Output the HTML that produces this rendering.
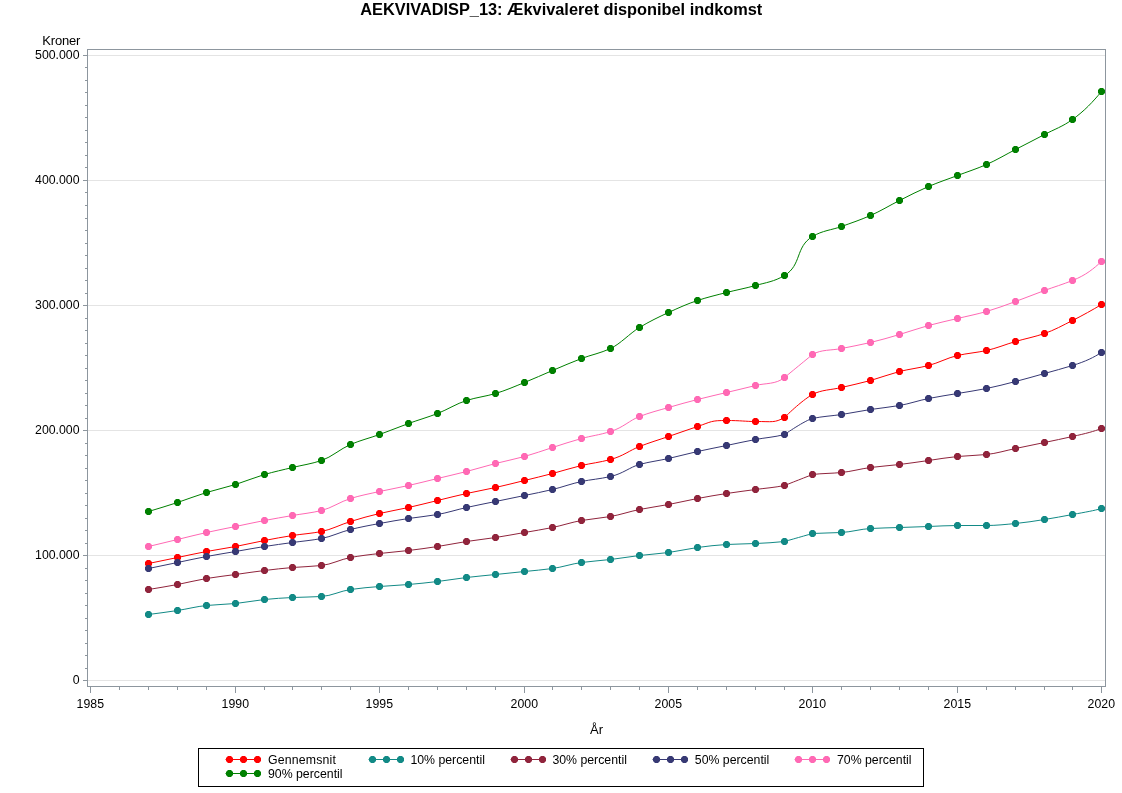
<!DOCTYPE html>
<html lang="da"><head><meta charset="utf-8"><title>AEKVIVADISP_13: Ækvivaleret disponibel indkomst</title>
<style>html,body{margin:0;padding:0;background:#fff}svg{display:block}text{font-family:"Liberation Sans",sans-serif;fill:#000}.t{font-size:12.3px}.tt{font-size:16.35px;font-weight:bold}.l{font-size:13px}</style></head><body>
<svg width="1122" height="793" viewBox="0 0 1122 793">
<rect width="1122" height="793" fill="#fff"/>
<text class="tt" x="561.3" y="14.8" text-anchor="middle">AEKVIVADISP_13: Ækvivaleret disponibel indkomst</text>
<path d="M88,680.5H1105M88,555.5H1105M88,430.5H1105M88,305.5H1105M88,180.5H1105M88,55.5H1105" stroke="#E4E4E4" stroke-width="1" fill="none"/>
<rect x="87.5" y="49.5" width="1018" height="637" fill="none" stroke="#8D969E" stroke-width="1"/>
<path d="M83,680.5H87M85,668.5H87M85,655.5H87M85,643.5H87M85,630.5H87M85,618.5H87M85,605.5H87M85,593.5H87M85,580.5H87M85,568.5H87M83,555.5H87M85,543.5H87M85,530.5H87M85,518.5H87M85,505.5H87M85,493.5H87M85,480.5H87M85,468.5H87M85,455.5H87M85,443.5H87M83,430.5H87M85,418.5H87M85,405.5H87M85,393.5H87M85,380.5H87M85,368.5H87M85,355.5H87M85,343.5H87M85,330.5H87M85,318.5H87M83,305.5H87M85,293.5H87M85,280.5H87M85,268.5H87M85,255.5H87M85,243.5H87M85,230.5H87M85,218.5H87M85,205.5H87M85,192.5H87M83,180.5H87M85,167.5H87M85,155.5H87M85,142.5H87M85,130.5H87M85,117.5H87M85,105.5H87M85,92.5H87M85,80.5H87M85,67.5H87M83,55.5H87M90.5,687V693M119.5,687V690M148.5,687V690M177.5,687V690M206.5,687V690M235.5,687V693M264.5,687V690M292.5,687V690M321.5,687V690M350.5,687V690M379.5,687V693M408.5,687V690M437.5,687V690M466.5,687V690M495.5,687V690M524.5,687V693M552.5,687V690M581.5,687V690M610.5,687V690M639.5,687V690M668.5,687V693M697.5,687V690M726.5,687V690M755.5,687V690M784.5,687V690M812.5,687V693M841.5,687V690M870.5,687V690M899.5,687V690M928.5,687V690M957.5,687V693M986.5,687V690M1015.5,687V690M1044.5,687V690M1072.5,687V690M1101.5,687V693" stroke="#8D969E" stroke-width="1" fill="none"/>
<text class="t" x="79.5" y="683.9" text-anchor="end">0</text>
<text class="t" x="79.5" y="558.9" text-anchor="end">100.000</text>
<text class="t" x="79.5" y="433.9" text-anchor="end">200.000</text>
<text class="t" x="79.5" y="308.9" text-anchor="end">300.000</text>
<text class="t" x="79.5" y="183.9" text-anchor="end">400.000</text>
<text class="t" x="79.5" y="58.9" text-anchor="end">500.000</text>
<text class="l" x="80.2" y="45.1" text-anchor="end" letter-spacing="-0.2">Kroner</text>
<text class="t" x="90.3" y="707.7" text-anchor="middle">1985</text>
<text class="t" x="235.3" y="707.7" text-anchor="middle">1990</text>
<text class="t" x="379.3" y="707.7" text-anchor="middle">1995</text>
<text class="t" x="524.3" y="707.7" text-anchor="middle">2000</text>
<text class="t" x="668.3" y="707.7" text-anchor="middle">2005</text>
<text class="t" x="812.3" y="707.7" text-anchor="middle">2010</text>
<text class="t" x="957.3" y="707.7" text-anchor="middle">2015</text>
<text class="t" x="1101.3" y="707.7" text-anchor="middle">2020</text>
<text class="l" x="596.5" y="733.7" text-anchor="middle">År</text>
<g><path d="M148.5,563.5C158.65,561.40 167.35,559.60 177.5,557.5C187.65,555.40 196.35,553.41 206.5,551.5C216.65,549.59 225.35,548.41 235.5,546.5C245.65,544.59 254.35,542.45 264.5,540.5C274.30,538.62 282.70,537.03 292.5,535.5C302.65,533.92 311.35,533.50 321.5,531.5C331.65,529.50 340.35,524.61 350.5,521.5C360.65,518.39 369.35,515.90 379.5,513.5C389.65,511.10 398.35,509.76 408.5,507.5C418.65,505.24 427.35,502.95 437.5,500.5C447.65,498.05 456.35,495.76 466.5,493.5C476.65,491.24 485.35,489.76 495.5,487.5C505.65,485.24 514.35,482.99 524.5,480.5C534.30,478.09 542.70,476.07 552.5,473.5C562.65,470.84 571.35,467.90 581.5,465.5C591.65,463.10 598.90,462.63 610.5,459.5C623.55,455.98 629.35,450.46 639.5,446.5C649.65,442.54 658.35,440.00 668.5,436.5C678.65,433.00 687.35,429.93 697.5,426.5C712.00,421.60 710.55,420.50 726.5,420.5C741.00,420.50 745.35,421.50 755.5,421.5C772.90,421.50 774.35,423.08 784.5,417.5C784.50,417.50 801.30,400.66 812.5,394.5C821.20,389.71 831.35,389.95 841.5,387.5C851.65,385.05 860.35,383.26 870.5,380.5C880.65,377.74 889.35,374.02 899.5,371.5C909.65,368.98 918.35,368.12 928.5,365.5C938.65,362.88 947.35,357.83 957.5,355.5C967.65,353.17 976.35,352.75 986.5,350.5C996.65,348.25 1005.35,344.46 1015.5,341.5C1025.65,338.54 1034.35,337.01 1044.5,333.5C1054.30,330.11 1062.70,325.40 1072.5,320.5C1082.65,315.43 1092.80,309.72 1101.5,304.5" fill="none" stroke="#FF0000" stroke-width="1"/>
<path d="M147.0,560.0h3l2,2v3l-2,2h-3l-2,-2v-3zM176.0,554.0h3l2,2v3l-2,2h-3l-2,-2v-3zM205.0,548.0h3l2,2v3l-2,2h-3l-2,-2v-3zM234.0,543.0h3l2,2v3l-2,2h-3l-2,-2v-3zM263.0,537.0h3l2,2v3l-2,2h-3l-2,-2v-3zM291.0,532.0h3l2,2v3l-2,2h-3l-2,-2v-3zM320.0,528.0h3l2,2v3l-2,2h-3l-2,-2v-3zM349.0,518.0h3l2,2v3l-2,2h-3l-2,-2v-3zM378.0,510.0h3l2,2v3l-2,2h-3l-2,-2v-3zM407.0,504.0h3l2,2v3l-2,2h-3l-2,-2v-3zM436.0,497.0h3l2,2v3l-2,2h-3l-2,-2v-3zM465.0,490.0h3l2,2v3l-2,2h-3l-2,-2v-3zM494.0,484.0h3l2,2v3l-2,2h-3l-2,-2v-3zM523.0,477.0h3l2,2v3l-2,2h-3l-2,-2v-3zM551.0,470.0h3l2,2v3l-2,2h-3l-2,-2v-3zM580.0,462.0h3l2,2v3l-2,2h-3l-2,-2v-3zM609.0,456.0h3l2,2v3l-2,2h-3l-2,-2v-3zM638.0,443.0h3l2,2v3l-2,2h-3l-2,-2v-3zM667.0,433.0h3l2,2v3l-2,2h-3l-2,-2v-3zM696.0,423.0h3l2,2v3l-2,2h-3l-2,-2v-3zM725.0,417.0h3l2,2v3l-2,2h-3l-2,-2v-3zM754.0,418.0h3l2,2v3l-2,2h-3l-2,-2v-3zM783.0,414.0h3l2,2v3l-2,2h-3l-2,-2v-3zM811.0,391.0h3l2,2v3l-2,2h-3l-2,-2v-3zM840.0,384.0h3l2,2v3l-2,2h-3l-2,-2v-3zM869.0,377.0h3l2,2v3l-2,2h-3l-2,-2v-3zM898.0,368.0h3l2,2v3l-2,2h-3l-2,-2v-3zM927.0,362.0h3l2,2v3l-2,2h-3l-2,-2v-3zM956.0,352.0h3l2,2v3l-2,2h-3l-2,-2v-3zM985.0,347.0h3l2,2v3l-2,2h-3l-2,-2v-3zM1014.0,338.0h3l2,2v3l-2,2h-3l-2,-2v-3zM1043.0,330.0h3l2,2v3l-2,2h-3l-2,-2v-3zM1071.0,317.0h3l2,2v3l-2,2h-3l-2,-2v-3zM1100.0,301.0h3l2,2v3l-2,2h-3l-2,-2v-3z" fill="#FF0000"/></g>
<g><path d="M148.5,614.5C158.65,613.18 167.35,612.06 177.5,610.5C187.65,608.94 196.35,606.50 206.5,605.5C216.65,604.50 225.35,604.43 235.5,603.5C245.65,602.57 254.35,600.46 264.5,599.5C274.30,598.58 282.70,597.96 292.5,597.5C302.65,597.03 311.35,597.11 321.5,596.5C331.65,595.89 340.35,590.97 350.5,589.5C360.65,588.03 369.35,587.34 379.5,586.5C389.65,585.66 398.35,585.34 408.5,584.5C418.65,583.66 427.35,582.70 437.5,581.5C447.65,580.30 456.35,578.70 466.5,577.5C476.65,576.30 485.35,575.55 495.5,574.5C505.65,573.45 514.35,572.57 524.5,571.5C534.30,570.47 542.70,569.88 552.5,568.5C562.65,567.07 571.35,563.90 581.5,562.5C591.65,561.10 600.35,560.70 610.5,559.5C620.65,558.30 629.35,556.70 639.5,555.5C649.65,554.30 658.35,553.81 668.5,552.5C678.65,551.19 687.35,548.81 697.5,547.5C707.65,546.19 716.35,545.02 726.5,544.5C736.65,543.98 745.35,543.97 755.5,543.5C765.65,543.03 774.35,542.63 784.5,541.5C784.50,541.50 812.50,533.50 812.5,533.5C822.65,532.88 831.35,533.06 841.5,532.5C851.65,531.94 860.35,529.06 870.5,528.5C880.65,527.94 889.35,527.85 899.5,527.5C909.65,527.15 918.35,526.85 928.5,526.5C938.65,526.15 947.35,525.50 957.5,525.5C967.65,525.50 976.35,525.50 986.5,525.5C996.65,525.50 1005.35,524.43 1015.5,523.5C1025.65,522.57 1034.35,521.08 1044.5,519.5C1054.30,517.97 1062.70,516.29 1072.5,514.5C1086.42,511.96 1093.38,510.80 1101.5,508.5" fill="none" stroke="#128A86" stroke-width="1"/>
<path d="M147.0,611.0h3l2,2v3l-2,2h-3l-2,-2v-3zM176.0,607.0h3l2,2v3l-2,2h-3l-2,-2v-3zM205.0,602.0h3l2,2v3l-2,2h-3l-2,-2v-3zM234.0,600.0h3l2,2v3l-2,2h-3l-2,-2v-3zM263.0,596.0h3l2,2v3l-2,2h-3l-2,-2v-3zM291.0,594.0h3l2,2v3l-2,2h-3l-2,-2v-3zM320.0,593.0h3l2,2v3l-2,2h-3l-2,-2v-3zM349.0,586.0h3l2,2v3l-2,2h-3l-2,-2v-3zM378.0,583.0h3l2,2v3l-2,2h-3l-2,-2v-3zM407.0,581.0h3l2,2v3l-2,2h-3l-2,-2v-3zM436.0,578.0h3l2,2v3l-2,2h-3l-2,-2v-3zM465.0,574.0h3l2,2v3l-2,2h-3l-2,-2v-3zM494.0,571.0h3l2,2v3l-2,2h-3l-2,-2v-3zM523.0,568.0h3l2,2v3l-2,2h-3l-2,-2v-3zM551.0,565.0h3l2,2v3l-2,2h-3l-2,-2v-3zM580.0,559.0h3l2,2v3l-2,2h-3l-2,-2v-3zM609.0,556.0h3l2,2v3l-2,2h-3l-2,-2v-3zM638.0,552.0h3l2,2v3l-2,2h-3l-2,-2v-3zM667.0,549.0h3l2,2v3l-2,2h-3l-2,-2v-3zM696.0,544.0h3l2,2v3l-2,2h-3l-2,-2v-3zM725.0,541.0h3l2,2v3l-2,2h-3l-2,-2v-3zM754.0,540.0h3l2,2v3l-2,2h-3l-2,-2v-3zM783.0,538.0h3l2,2v3l-2,2h-3l-2,-2v-3zM811.0,530.0h3l2,2v3l-2,2h-3l-2,-2v-3zM840.0,529.0h3l2,2v3l-2,2h-3l-2,-2v-3zM869.0,525.0h3l2,2v3l-2,2h-3l-2,-2v-3zM898.0,524.0h3l2,2v3l-2,2h-3l-2,-2v-3zM927.0,523.0h3l2,2v3l-2,2h-3l-2,-2v-3zM956.0,522.0h3l2,2v3l-2,2h-3l-2,-2v-3zM985.0,522.0h3l2,2v3l-2,2h-3l-2,-2v-3zM1014.0,520.0h3l2,2v3l-2,2h-3l-2,-2v-3zM1043.0,516.0h3l2,2v3l-2,2h-3l-2,-2v-3zM1071.0,511.0h3l2,2v3l-2,2h-3l-2,-2v-3zM1100.0,505.0h3l2,2v3l-2,2h-3l-2,-2v-3z" fill="#128A86"/></g>
<g><path d="M148.5,589.5C158.65,587.83 167.35,586.41 177.5,584.5C187.65,582.59 196.35,580.18 206.5,578.5C216.65,576.82 225.35,575.90 235.5,574.5C245.65,573.10 254.35,571.72 264.5,570.5C274.30,569.32 282.70,568.32 292.5,567.5C302.65,566.65 311.35,566.62 321.5,565.5C331.65,564.38 340.35,559.37 350.5,557.5C360.65,555.63 369.35,554.70 379.5,553.5C389.65,552.30 398.35,551.70 408.5,550.5C418.65,549.30 427.35,548.06 437.5,546.5C447.65,544.94 456.35,543.06 466.5,541.5C476.65,539.94 485.35,539.06 495.5,537.5C505.65,535.94 514.35,534.28 524.5,532.5C534.30,530.78 542.70,529.51 552.5,527.5C562.65,525.42 571.35,522.28 581.5,520.5C591.65,518.72 600.35,518.28 610.5,516.5C620.65,514.72 629.35,511.54 639.5,509.5C649.65,507.46 658.35,506.41 668.5,504.5C678.65,502.59 687.35,500.41 697.5,498.5C707.65,496.59 716.35,495.06 726.5,493.5C736.65,491.94 745.35,490.90 755.5,489.5C765.65,488.10 774.35,487.57 784.5,485.5C784.50,485.50 812.50,474.50 812.5,474.5C822.65,473.31 831.35,473.50 841.5,472.5C851.65,471.50 860.35,468.81 870.5,467.5C880.65,466.19 889.35,465.70 899.5,464.5C909.65,463.30 918.35,461.90 928.5,460.5C938.65,459.10 947.35,457.43 957.5,456.5C967.65,455.57 976.35,455.55 986.5,454.5C996.65,453.45 1005.35,450.60 1015.5,448.5C1025.65,446.40 1034.35,444.64 1044.5,442.5C1054.30,440.44 1062.70,438.69 1072.5,436.5C1086.42,433.39 1093.38,431.57 1101.5,428.5" fill="none" stroke="#90243C" stroke-width="1"/>
<path d="M147.0,586.0h3l2,2v3l-2,2h-3l-2,-2v-3zM176.0,581.0h3l2,2v3l-2,2h-3l-2,-2v-3zM205.0,575.0h3l2,2v3l-2,2h-3l-2,-2v-3zM234.0,571.0h3l2,2v3l-2,2h-3l-2,-2v-3zM263.0,567.0h3l2,2v3l-2,2h-3l-2,-2v-3zM291.0,564.0h3l2,2v3l-2,2h-3l-2,-2v-3zM320.0,562.0h3l2,2v3l-2,2h-3l-2,-2v-3zM349.0,554.0h3l2,2v3l-2,2h-3l-2,-2v-3zM378.0,550.0h3l2,2v3l-2,2h-3l-2,-2v-3zM407.0,547.0h3l2,2v3l-2,2h-3l-2,-2v-3zM436.0,543.0h3l2,2v3l-2,2h-3l-2,-2v-3zM465.0,538.0h3l2,2v3l-2,2h-3l-2,-2v-3zM494.0,534.0h3l2,2v3l-2,2h-3l-2,-2v-3zM523.0,529.0h3l2,2v3l-2,2h-3l-2,-2v-3zM551.0,524.0h3l2,2v3l-2,2h-3l-2,-2v-3zM580.0,517.0h3l2,2v3l-2,2h-3l-2,-2v-3zM609.0,513.0h3l2,2v3l-2,2h-3l-2,-2v-3zM638.0,506.0h3l2,2v3l-2,2h-3l-2,-2v-3zM667.0,501.0h3l2,2v3l-2,2h-3l-2,-2v-3zM696.0,495.0h3l2,2v3l-2,2h-3l-2,-2v-3zM725.0,490.0h3l2,2v3l-2,2h-3l-2,-2v-3zM754.0,486.0h3l2,2v3l-2,2h-3l-2,-2v-3zM783.0,482.0h3l2,2v3l-2,2h-3l-2,-2v-3zM811.0,471.0h3l2,2v3l-2,2h-3l-2,-2v-3zM840.0,469.0h3l2,2v3l-2,2h-3l-2,-2v-3zM869.0,464.0h3l2,2v3l-2,2h-3l-2,-2v-3zM898.0,461.0h3l2,2v3l-2,2h-3l-2,-2v-3zM927.0,457.0h3l2,2v3l-2,2h-3l-2,-2v-3zM956.0,453.0h3l2,2v3l-2,2h-3l-2,-2v-3zM985.0,451.0h3l2,2v3l-2,2h-3l-2,-2v-3zM1014.0,445.0h3l2,2v3l-2,2h-3l-2,-2v-3zM1043.0,439.0h3l2,2v3l-2,2h-3l-2,-2v-3zM1071.0,433.0h3l2,2v3l-2,2h-3l-2,-2v-3zM1100.0,425.0h3l2,2v3l-2,2h-3l-2,-2v-3z" fill="#90243C"/></g>
<g><path d="M148.5,568.5C158.65,566.40 167.35,564.60 177.5,562.5C187.65,560.40 196.35,558.41 206.5,556.5C216.65,554.59 225.35,553.25 235.5,551.5C245.65,549.75 254.35,548.09 264.5,546.5C274.30,544.97 282.70,543.88 292.5,542.5C302.65,541.08 311.35,540.44 321.5,538.5C331.65,536.56 340.35,532.02 350.5,529.5C360.65,526.98 369.35,525.41 379.5,523.5C389.65,521.59 398.35,520.06 408.5,518.5C418.65,516.94 427.35,516.28 437.5,514.5C447.65,512.72 456.35,509.76 466.5,507.5C476.65,505.24 485.35,503.60 495.5,501.5C505.65,499.40 514.35,497.64 524.5,495.5C534.30,493.44 542.70,491.86 552.5,489.5C562.65,487.05 571.35,483.65 581.5,481.5C591.65,479.35 598.90,479.17 610.5,476.5C623.55,473.50 629.35,467.30 639.5,464.5C649.65,461.70 658.35,460.76 668.5,458.5C678.65,456.24 687.35,453.76 697.5,451.5C707.65,449.24 716.35,447.60 726.5,445.5C736.65,443.40 745.35,441.41 755.5,439.5C765.65,437.59 774.35,437.19 784.5,434.5C784.50,434.50 805.50,420.06 812.5,418.5C822.65,416.24 831.35,416.06 841.5,414.5C851.65,412.94 860.35,411.06 870.5,409.5C880.65,407.94 889.35,407.28 899.5,405.5C909.65,403.72 918.35,400.54 928.5,398.5C938.65,396.46 947.35,395.25 957.5,393.5C967.65,391.75 976.35,390.54 986.5,388.5C996.65,386.46 1005.35,384.11 1015.5,381.5C1025.65,378.89 1034.35,376.35 1044.5,373.5C1054.30,370.75 1062.70,368.54 1072.5,365.5C1086.42,361.18 1093.38,357.49 1101.5,352.5" fill="none" stroke="#373974" stroke-width="1"/>
<path d="M147.0,565.0h3l2,2v3l-2,2h-3l-2,-2v-3zM176.0,559.0h3l2,2v3l-2,2h-3l-2,-2v-3zM205.0,553.0h3l2,2v3l-2,2h-3l-2,-2v-3zM234.0,548.0h3l2,2v3l-2,2h-3l-2,-2v-3zM263.0,543.0h3l2,2v3l-2,2h-3l-2,-2v-3zM291.0,539.0h3l2,2v3l-2,2h-3l-2,-2v-3zM320.0,535.0h3l2,2v3l-2,2h-3l-2,-2v-3zM349.0,526.0h3l2,2v3l-2,2h-3l-2,-2v-3zM378.0,520.0h3l2,2v3l-2,2h-3l-2,-2v-3zM407.0,515.0h3l2,2v3l-2,2h-3l-2,-2v-3zM436.0,511.0h3l2,2v3l-2,2h-3l-2,-2v-3zM465.0,504.0h3l2,2v3l-2,2h-3l-2,-2v-3zM494.0,498.0h3l2,2v3l-2,2h-3l-2,-2v-3zM523.0,492.0h3l2,2v3l-2,2h-3l-2,-2v-3zM551.0,486.0h3l2,2v3l-2,2h-3l-2,-2v-3zM580.0,478.0h3l2,2v3l-2,2h-3l-2,-2v-3zM609.0,473.0h3l2,2v3l-2,2h-3l-2,-2v-3zM638.0,461.0h3l2,2v3l-2,2h-3l-2,-2v-3zM667.0,455.0h3l2,2v3l-2,2h-3l-2,-2v-3zM696.0,448.0h3l2,2v3l-2,2h-3l-2,-2v-3zM725.0,442.0h3l2,2v3l-2,2h-3l-2,-2v-3zM754.0,436.0h3l2,2v3l-2,2h-3l-2,-2v-3zM783.0,431.0h3l2,2v3l-2,2h-3l-2,-2v-3zM811.0,415.0h3l2,2v3l-2,2h-3l-2,-2v-3zM840.0,411.0h3l2,2v3l-2,2h-3l-2,-2v-3zM869.0,406.0h3l2,2v3l-2,2h-3l-2,-2v-3zM898.0,402.0h3l2,2v3l-2,2h-3l-2,-2v-3zM927.0,395.0h3l2,2v3l-2,2h-3l-2,-2v-3zM956.0,390.0h3l2,2v3l-2,2h-3l-2,-2v-3zM985.0,385.0h3l2,2v3l-2,2h-3l-2,-2v-3zM1014.0,378.0h3l2,2v3l-2,2h-3l-2,-2v-3zM1043.0,370.0h3l2,2v3l-2,2h-3l-2,-2v-3zM1071.0,362.0h3l2,2v3l-2,2h-3l-2,-2v-3zM1100.0,349.0h3l2,2v3l-2,2h-3l-2,-2v-3z" fill="#373974"/></g>
<g><path d="M148.5,546.5C158.65,544.05 167.35,541.95 177.5,539.5C187.65,537.05 196.35,534.76 206.5,532.5C216.65,530.24 225.35,528.60 235.5,526.5C245.65,524.40 254.35,522.45 264.5,520.5C274.30,518.62 282.70,517.22 292.5,515.5C302.65,513.72 311.35,512.97 321.5,510.5C331.65,508.03 340.35,501.59 350.5,498.5C360.65,495.41 369.35,493.76 379.5,491.5C389.65,489.24 398.35,487.76 408.5,485.5C418.65,483.24 427.35,480.95 437.5,478.5C447.65,476.05 456.35,474.11 466.5,471.5C476.65,468.89 485.35,466.11 495.5,463.5C505.65,460.89 514.35,459.30 524.5,456.5C534.30,453.80 542.70,450.59 552.5,447.5C562.65,444.29 571.35,441.26 581.5,438.5C591.65,435.74 598.32,435.28 610.5,431.5C623.55,427.45 629.35,420.44 639.5,416.5C649.65,412.56 658.35,410.46 668.5,407.5C678.65,404.54 687.35,402.11 697.5,399.5C707.65,396.89 716.35,394.95 726.5,392.5C736.65,390.05 745.35,388.11 755.5,385.5C765.65,382.89 775.80,384.63 784.5,377.5C784.50,377.50 812.50,354.50 812.5,354.5C821.20,349.28 831.35,350.60 841.5,348.5C851.65,346.40 860.35,344.90 870.5,342.5C880.65,340.10 889.35,337.46 899.5,334.5C909.65,331.54 918.35,328.26 928.5,325.5C938.65,322.74 947.35,320.95 957.5,318.5C967.65,316.05 976.35,314.38 986.5,311.5C996.65,308.62 1005.35,305.17 1015.5,301.5C1025.65,297.83 1034.35,294.23 1044.5,290.5C1054.30,286.89 1062.70,284.44 1072.5,280.5C1086.42,274.91 1093.38,268.79 1101.5,261.5" fill="none" stroke="#FF69B4" stroke-width="1"/>
<path d="M147.0,543.0h3l2,2v3l-2,2h-3l-2,-2v-3zM176.0,536.0h3l2,2v3l-2,2h-3l-2,-2v-3zM205.0,529.0h3l2,2v3l-2,2h-3l-2,-2v-3zM234.0,523.0h3l2,2v3l-2,2h-3l-2,-2v-3zM263.0,517.0h3l2,2v3l-2,2h-3l-2,-2v-3zM291.0,512.0h3l2,2v3l-2,2h-3l-2,-2v-3zM320.0,507.0h3l2,2v3l-2,2h-3l-2,-2v-3zM349.0,495.0h3l2,2v3l-2,2h-3l-2,-2v-3zM378.0,488.0h3l2,2v3l-2,2h-3l-2,-2v-3zM407.0,482.0h3l2,2v3l-2,2h-3l-2,-2v-3zM436.0,475.0h3l2,2v3l-2,2h-3l-2,-2v-3zM465.0,468.0h3l2,2v3l-2,2h-3l-2,-2v-3zM494.0,460.0h3l2,2v3l-2,2h-3l-2,-2v-3zM523.0,453.0h3l2,2v3l-2,2h-3l-2,-2v-3zM551.0,444.0h3l2,2v3l-2,2h-3l-2,-2v-3zM580.0,435.0h3l2,2v3l-2,2h-3l-2,-2v-3zM609.0,428.0h3l2,2v3l-2,2h-3l-2,-2v-3zM638.0,413.0h3l2,2v3l-2,2h-3l-2,-2v-3zM667.0,404.0h3l2,2v3l-2,2h-3l-2,-2v-3zM696.0,396.0h3l2,2v3l-2,2h-3l-2,-2v-3zM725.0,389.0h3l2,2v3l-2,2h-3l-2,-2v-3zM754.0,382.0h3l2,2v3l-2,2h-3l-2,-2v-3zM783.0,374.0h3l2,2v3l-2,2h-3l-2,-2v-3zM811.0,351.0h3l2,2v3l-2,2h-3l-2,-2v-3zM840.0,345.0h3l2,2v3l-2,2h-3l-2,-2v-3zM869.0,339.0h3l2,2v3l-2,2h-3l-2,-2v-3zM898.0,331.0h3l2,2v3l-2,2h-3l-2,-2v-3zM927.0,322.0h3l2,2v3l-2,2h-3l-2,-2v-3zM956.0,315.0h3l2,2v3l-2,2h-3l-2,-2v-3zM985.0,308.0h3l2,2v3l-2,2h-3l-2,-2v-3zM1014.0,298.0h3l2,2v3l-2,2h-3l-2,-2v-3zM1043.0,287.0h3l2,2v3l-2,2h-3l-2,-2v-3zM1071.0,277.0h3l2,2v3l-2,2h-3l-2,-2v-3zM1100.0,258.0h3l2,2v3l-2,2h-3l-2,-2v-3z" fill="#FF69B4"/></g>
<g><path d="M148.5,511.5C158.65,508.43 167.35,505.82 177.5,502.5C187.65,499.18 196.35,495.61 206.5,492.5C216.65,489.39 225.35,487.61 235.5,484.5C245.65,481.39 254.35,477.44 264.5,474.5C274.30,471.66 282.70,469.91 292.5,467.5C302.65,465.01 311.35,463.91 321.5,460.5C331.65,457.09 340.35,448.81 350.5,444.5C360.65,440.19 369.35,438.17 379.5,434.5C389.65,430.83 398.35,427.17 408.5,423.5C418.65,419.83 427.35,417.46 437.5,413.5C447.65,409.54 456.35,403.69 466.5,400.5C476.65,397.31 485.35,396.49 495.5,393.5C505.65,390.51 514.35,386.58 524.5,382.5C534.30,378.56 542.70,374.63 552.5,370.5C562.65,366.23 571.35,362.32 581.5,358.5C591.65,354.68 600.35,353.24 610.5,348.5C620.65,343.76 629.35,333.62 639.5,327.5C649.65,321.38 658.35,317.17 668.5,312.5C678.65,307.83 687.35,303.86 697.5,300.5C707.65,297.14 716.35,295.11 726.5,292.5C736.65,289.89 745.35,288.38 755.5,285.5C765.65,282.62 774.35,281.59 784.5,275.5C801.86,265.08 795.14,246.92 812.5,236.5C822.65,230.41 831.35,230.17 841.5,226.5C851.65,222.83 860.35,219.94 870.5,215.5C880.65,211.06 889.35,205.57 899.5,200.5C909.65,195.43 918.35,190.81 928.5,186.5C938.65,182.19 947.35,179.35 957.5,175.5C967.65,171.65 976.35,168.94 986.5,164.5C996.65,160.06 1005.35,154.75 1015.5,149.5C1025.65,144.25 1034.35,139.84 1044.5,134.5C1054.30,129.34 1062.70,126.56 1072.5,119.5C1084.68,110.73 1092.80,101.94 1101.5,91.5" fill="none" stroke="#008000" stroke-width="1"/>
<path d="M147.0,508.0h3l2,2v3l-2,2h-3l-2,-2v-3zM176.0,499.0h3l2,2v3l-2,2h-3l-2,-2v-3zM205.0,489.0h3l2,2v3l-2,2h-3l-2,-2v-3zM234.0,481.0h3l2,2v3l-2,2h-3l-2,-2v-3zM263.0,471.0h3l2,2v3l-2,2h-3l-2,-2v-3zM291.0,464.0h3l2,2v3l-2,2h-3l-2,-2v-3zM320.0,457.0h3l2,2v3l-2,2h-3l-2,-2v-3zM349.0,441.0h3l2,2v3l-2,2h-3l-2,-2v-3zM378.0,431.0h3l2,2v3l-2,2h-3l-2,-2v-3zM407.0,420.0h3l2,2v3l-2,2h-3l-2,-2v-3zM436.0,410.0h3l2,2v3l-2,2h-3l-2,-2v-3zM465.0,397.0h3l2,2v3l-2,2h-3l-2,-2v-3zM494.0,390.0h3l2,2v3l-2,2h-3l-2,-2v-3zM523.0,379.0h3l2,2v3l-2,2h-3l-2,-2v-3zM551.0,367.0h3l2,2v3l-2,2h-3l-2,-2v-3zM580.0,355.0h3l2,2v3l-2,2h-3l-2,-2v-3zM609.0,345.0h3l2,2v3l-2,2h-3l-2,-2v-3zM638.0,324.0h3l2,2v3l-2,2h-3l-2,-2v-3zM667.0,309.0h3l2,2v3l-2,2h-3l-2,-2v-3zM696.0,297.0h3l2,2v3l-2,2h-3l-2,-2v-3zM725.0,289.0h3l2,2v3l-2,2h-3l-2,-2v-3zM754.0,282.0h3l2,2v3l-2,2h-3l-2,-2v-3zM783.0,272.0h3l2,2v3l-2,2h-3l-2,-2v-3zM811.0,233.0h3l2,2v3l-2,2h-3l-2,-2v-3zM840.0,223.0h3l2,2v3l-2,2h-3l-2,-2v-3zM869.0,212.0h3l2,2v3l-2,2h-3l-2,-2v-3zM898.0,197.0h3l2,2v3l-2,2h-3l-2,-2v-3zM927.0,183.0h3l2,2v3l-2,2h-3l-2,-2v-3zM956.0,172.0h3l2,2v3l-2,2h-3l-2,-2v-3zM985.0,161.0h3l2,2v3l-2,2h-3l-2,-2v-3zM1014.0,146.0h3l2,2v3l-2,2h-3l-2,-2v-3zM1043.0,131.0h3l2,2v3l-2,2h-3l-2,-2v-3zM1071.0,116.0h3l2,2v3l-2,2h-3l-2,-2v-3zM1100.0,88.0h3l2,2v3l-2,2h-3l-2,-2v-3z" fill="#008000"/></g>
<rect x="198.5" y="748.5" width="725" height="38" fill="#fff" stroke="#000" stroke-width="1"/>
<path d="M225.5,759.5H261" stroke="#FF0000" stroke-width="1"/>
<path d="M228.0,756.0h3l2,2v3l-2,2h-3l-2,-2v-3zM242.0,756.0h3l2,2v3l-2,2h-3l-2,-2v-3zM256.0,756.0h3l2,2v3l-2,2h-3l-2,-2v-3z" fill="#FF0000"/>
<text class="t" x="268.0" y="763.6" letter-spacing="0.18">Gennemsnit</text>
<path d="M368.5,759.5H404" stroke="#128A86" stroke-width="1"/>
<path d="M371.0,756.0h3l2,2v3l-2,2h-3l-2,-2v-3zM385.0,756.0h3l2,2v3l-2,2h-3l-2,-2v-3zM399.0,756.0h3l2,2v3l-2,2h-3l-2,-2v-3z" fill="#128A86"/>
<text class="t" x="410.4" y="763.6">10% percentil</text>
<path d="M510.5,759.5H546" stroke="#90243C" stroke-width="1"/>
<path d="M513.0,756.0h3l2,2v3l-2,2h-3l-2,-2v-3zM527.0,756.0h3l2,2v3l-2,2h-3l-2,-2v-3zM541.0,756.0h3l2,2v3l-2,2h-3l-2,-2v-3z" fill="#90243C"/>
<text class="t" x="552.4" y="763.6">30% percentil</text>
<path d="M652.5,759.5H688" stroke="#373974" stroke-width="1"/>
<path d="M655.0,756.0h3l2,2v3l-2,2h-3l-2,-2v-3zM669.0,756.0h3l2,2v3l-2,2h-3l-2,-2v-3zM683.0,756.0h3l2,2v3l-2,2h-3l-2,-2v-3z" fill="#373974"/>
<text class="t" x="694.8" y="763.6">50% percentil</text>
<path d="M794.5,759.5H830" stroke="#FF69B4" stroke-width="1"/>
<path d="M797.0,756.0h3l2,2v3l-2,2h-3l-2,-2v-3zM811.0,756.0h3l2,2v3l-2,2h-3l-2,-2v-3zM825.0,756.0h3l2,2v3l-2,2h-3l-2,-2v-3z" fill="#FF69B4"/>
<text class="t" x="837.0" y="763.6">70% percentil</text>
<path d="M225.5,773.5H261" stroke="#008000" stroke-width="1"/>
<path d="M228.0,770.0h3l2,2v3l-2,2h-3l-2,-2v-3zM242.0,770.0h3l2,2v3l-2,2h-3l-2,-2v-3zM256.0,770.0h3l2,2v3l-2,2h-3l-2,-2v-3z" fill="#008000"/>
<text class="t" x="268.0" y="777.6">90% percentil</text>
</svg></body></html>
